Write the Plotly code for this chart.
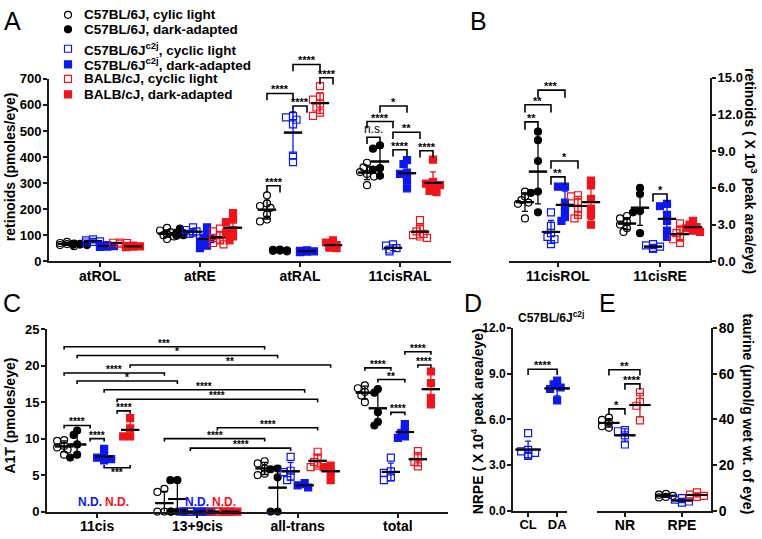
import numpy as np
import plotly.graph_objects as go

W, H = 762, 539
FONT = "Liberation Sans, Arial, sans-serif"
AX = "#1a1a1a"
BLUE = "#0c18f0"
RED = "#f0141a"

# ---------------- groups ----------------
group_names = [
    "C57BL/6J, cylic light",
    "C57BL/6J, dark-adapted",
    "C57BL/6J<sup>c2j</sup>, cyclic light",
    "C57BL/6J<sup>c2j</sup>, dark-adapted",
    "BALB/cJ, cyclic light",
    "BALB/cJ, dark-adapted",
]
group_symbols = ["circle-open", "circle", "square-open", "square", "square-open", "square"]
group_colors = ["black", "black", BLUE, BLUE, RED, RED]

# ---------------- panel A : retinoids (pmoles/eye) ----------------
a_categories = ["atROL", "atRE", "atRAL", "11cisRAL"]
a_wt_cl = [[62, 66, 70, 74, 58, 68], [128, 118, 105, 95, 85, 112, 100],
           [253, 222, 212, 205, 180, 160, 153], [378, 360, 350, 342, 335, 325, 292]]
a_wt_da = [[62, 64, 66, 63, 65, 67], [100, 104, 110, 125, 98, 108],
           [38, 42, 45, 40, 44, 41], [445, 432, 357, 352, 328]]
a_c2j_cl = [[72, 76, 80, 84, 74], [130, 120, 110, 100, 115, 105],
            [557, 552, 543, 525, 405, 380], [65, 60, 50, 45, 38]]
a_c2j_da = [[55, 58, 60, 56, 62], [130, 108, 90, 75, 60, 50, 85],
            [35, 38, 40, 37, 42], [388, 373, 340, 335, 310, 280]]
a_balb_cl = [[68, 70, 72, 71], [125, 115, 100, 90, 80, 70, 65],
             [672, 632, 620, 605, 590, 570, 558], [158, 130, 115, 105, 100, 95, 90]]
a_balb_da = [[54, 57, 60, 56, 58], [185, 160, 150, 120, 110, 95, 80],
             [80, 72, 62, 55, 52, 50], [390, 305, 298, 292, 285, 270, 265]]
# ((category, group), (category, group), level, label)
a_brackets = [
    ((2, 0), (2, 1), 290, "****"), ((2, 0), (2, 2), 644, "****"),
    ((2, 2), (2, 3), 596, "****"), ((2, 2), (2, 4), 755, "****"),
    ((2, 4), (2, 5), 704, "****"), ((3, 1), (3, 3), 596, "*"),
    ((3, 0), (3, 2), 536, "****"), ((3, 0), (3, 1), 476, "n.s."),
    ((3, 2), (3, 4), 495, "**"), ((3, 2), (3, 3), 428, "****"),
    ((3, 4), (3, 5), 424, "****"),
]

# ---------------- panel B : retinoids (x10^3 peak area/eye) ----------------
b_categories = ["11cisROL", "11cisRE"]
b_wt_cl = [[5.7, 5.3, 5.0, 4.8, 4.7, 3.5], [3.7, 3.5, 3.2, 3.0, 2.7, 2.4]]
b_wt_da = [[10.6, 9.9, 8.2, 5.7, 5.6, 4.0], [6.0, 5.5, 4.1, 4.0, 2.3]]
b_c2j_cl = [[4.0, 2.9, 2.3, 2.0, 1.8, 1.4], [1.4, 1.3, 1.2, 1.1, 1.0]]
b_c2j_da = [[6.1, 6.1, 4.8, 4.4, 4.0, 3.6, 3.3], [4.7, 4.5, 3.8, 3.3, 2.5, 2.0]]
b_balb_cl = [[5.4, 5.3, 4.8, 4.3, 3.8, 3.5], [3.1, 2.6, 2.3, 2.0, 1.8, 1.5]]
b_balb_da = [[6.6, 6.2, 5.1, 4.3, 3.8, 3.0], [3.3, 3.0, 2.8, 2.7, 2.5, 2.4]]
b_brackets = [
    ((0, 0), (0, 1), 11.4, "**"), ((0, 0), (0, 2), 12.8, "**"),
    ((0, 1), (0, 3), 14.0, "***"), ((0, 2), (0, 3), 6.9, "**"),
    ((0, 2), (0, 4), 8.2, "*"), ((1, 2), (1, 3), 5.5, "*"),
]

# ---------------- panel C : A1T (pmoles/eye) ----------------
c_categories = ["11cis", "13+9cis", "all-trans", "total"]
c_wt_cl = [[9.8, 9.7, 9.0, 8.8, 8.5, 7.8], [3.1, 2.7, 0, 0, 0],
           [6.9, 6.6, 5.9, 5.2, 5.0], [17.3, 16.9, 16.4, 15.9, 15.0]]
c_wt_da = [[11.1, 10.5, 9.2, 7.8, 7.4], [4.3, 4.3, 0, 0, 0],
           [5.9, 5.8, 4.7, 0, 0], [16.8, 16.3, 13.6, 12.3, 11.8]]
c_c2j_cl = [[], [0, 0, 0, 0, 0], [7.5, 5.6, 5.4, 4.8, 4.3], [7.4, 5.5, 5.3, 4.7, 4.3]]
c_c2j_da = [[8.6, 7.6, 7.4, 7.2, 7.0], [0, 0, 0, 0], [3.9, 3.6, 3.3],
            [12.0, 11.3, 10.8, 10.3, 10.1]]
c_balb_cl = [[], [0, 0, 0, 0], [8.2, 7.4, 6.8, 6.3, 6.1], [8.3, 7.4, 6.8, 6.2]]
c_balb_da = [[12.8, 11.4, 10.3, 10.3], [0, 0, 0, 0], [6.3, 6.1, 5.4, 4.3],
             [19.2, 17.6, 15.6, 14.7]]
c_brackets = [
    ((0, 0), (2, 0), 22.6, "***"), ((0, 1), (2, 1), 21.4, "*"),
    ((0, 0), (1, 0), 19.0, "****"), ((0, 5), (2, 5), 20.1, "**"),
    ((0, 1), (1, 1), 17.9, "*"), ((0, 3), (2, 3), 16.7, "****"),
    ((0, 4), (2, 4), 15.4, "****"), ((0, 0), (0, 2), 11.8, "****"),
    ((0, 2), (0, 3), 10.0, "****"), ((0, 4), (0, 5), 13.8, "****"),
    ((1, 0), (2, 0), 10.0, "****"), ((1, 2), (2, 2), 8.7, "****"),
    ((1, 4), (2, 4), 11.5, "****"), ((3, 0), (3, 2), 19.7, "****"),
    ((3, 1), (3, 3), 18.1, "**"), ((3, 2), (3, 3), 13.6, "****"),
    ((3, 3), (3, 5), 21.9, "****"), ((3, 4), (3, 5), 20.1, "****"),
]
c_inverted = [((0, 3), (0, 5), 6.0, "***")]
# N.D. labels: (category, group from, group to)
c_nd = [(0, 2, 2), (0, 4, 4), (1, 2, 3), (1, 4, 5)]

# ---------------- panel D : NRPE ----------------
d_categories = ["CL", "DA"]
d_c2j = [[5.1, 4.0, 3.9, 3.8, 3.7, 3.6], [8.55, 8.3, 8.1, 8.0, 7.25]]
d_brackets = [((0, 0), (1, 0), 9.3, "****")]

# ---------------- panel E : taurine ----------------
e_categories = ["NR", "RPE"]
e_wt_cl = [[40.8, 39.8, 38.5, 37.0, 36.3], [7.3, 7.0, 6.5, 6.0, 5.8]]
e_c2j_cl = [[35.3, 34.8, 33.0, 29.0], [5.5, 4.8, 4.0, 3.5]]
e_balb_cl = [[51.9, 47.7, 46.0, 39.6], [8.0, 7.0, 6.5, 6.0]]
e_brackets = [((0, 0), (0, 2), 61.8, "**"), ((0, 1), (0, 2), 55.6, "****"),
              ((0, 0), (0, 1), 44.6, "*")]


def fx(px):
    return px / W


def fy(py):
    return 1 - py / H


def swarm(vals, ppy, step=3.5, min_d=5.0):
    """Spread overlapping points sideways (pixel offsets)."""
    vals = np.asarray(vals, float)
    placed, out = [], np.zeros(len(vals))
    for i in np.argsort(-vals, kind="stable"):
        yp = vals[i] * ppy
        best, best_hits = 0.0, None
        for k in (0, -1, 1, -2, 2):
            xp = k * step
            hits = sum(1 for a, b in placed if np.hypot(xp - a, yp - b) < min_d)
            if best_hits is None or hits < best_hits:
                best, best_hits = xp, hits
            if hits == 0:
                break
        placed.append((best, yp))
        out[i] = best
    return out


fig = go.Figure()
layout = {}
annotations = []


def bold(size):
    return dict(family=FONT, size=size, color="black", weight="bold")


def make_panel(n, ext, xpx, ypx, xr, yr, ext_py, side, cats, dtick, fmt, tsize, csize):
    xid, yid = ("x", "y") if n == 1 else (f"x{n}", f"y{n}")
    xkey, ykey = ("xaxis", "yaxis") if n == 1 else (f"xaxis{n}", f"yaxis{n}")
    common = dict(showline=True, linecolor=AX, linewidth=2, ticks="outside", ticklen=4,
                  tickwidth=1.5, tickcolor=AX, showgrid=False, zeroline=False,
                  fixedrange=True)
    layout[xkey] = dict(domain=[fx(xpx[0]), fx(xpx[1])], range=xr, anchor=yid,
                        tickvals=list(range(len(cats))), ticktext=cats,
                        tickfont=bold(csize), ticklabelstandoff=-3, **common)
    layout[ykey] = dict(domain=[fy(ypx[1]), fy(ypx[0])], range=yr, anchor=xid, side=side,
                        tick0=0, dtick=dtick, tickformat=fmt, tickfont=bold(tsize),
                        ticklabelstandoff=-1, **common)
    top = yr[1] * (ypx[1] - ext_py) / (ypx[1] - ypx[0])
    layout[f"yaxis{ext}"] = dict(domain=[fy(ypx[1]), fy(ext_py)], range=[0, top],
                                 anchor=xid, visible=False, fixedrange=True)
    return dict(x=xid, y=yid, ext=f"y{ext}",
                ppx=(xpx[1] - xpx[0]) / (xr[1] - xr[0]),
                ppy=(ypx[1] - ypx[0]) / (yr[1] - yr[0]))


def add_groups(p, series, groups, offs_px, mean_w, msize=7):
    pos = {}
    for data, g, off in zip(series, groups, offs_px):
        xs, ys, mx, my, sd = [], [], [], [], []
        for c, vals in enumerate(data):
            base = c + off / p["ppx"]
            pos[(c, g)] = base
            if not vals:
                continue
            jit = swarm(vals, p["ppy"])
            xs += list(base + jit / p["ppx"])
            ys += list(vals)
            mx.append(base)
            my.append(float(np.mean(vals)))
            sd.append(float(np.std(vals, ddof=1)) if len(vals) > 1 else 0.0)
        col = group_colors[g]
        fig.add_trace(go.Scatter(
            x=mx, y=my, xaxis=p["x"], yaxis=p["y"], mode="markers",
            marker=dict(symbol="line-ew", size=mean_w, color="black",
                        line=dict(width=2, color="black")),
            error_y=dict(type="data", array=sd, color=col, thickness=1.3, width=3),
            cliponaxis=False, showlegend=False, hoverinfo="skip"))
        fig.add_trace(go.Scatter(
            x=xs, y=ys, xaxis=p["x"], yaxis=p["y"], mode="markers",
            marker=dict(symbol=group_symbols[g], size=msize, color=col,
                        line=dict(width=1.2, color=col)),
            cliponaxis=False, showlegend=False, hoverinfo="skip"))
        # mean line drawn on top of the points
        fig.add_trace(go.Scatter(
            x=mx, y=my, xaxis=p["x"], yaxis=p["y"], mode="markers",
            marker=dict(symbol="line-ew", size=mean_w, color="black",
                        line=dict(width=2, color="black")),
            cliponaxis=False, showlegend=False, hoverinfo="skip"))
    return pos


def add_brackets(p, pos, brackets, leg_px, inverted=False, size=11):
    bx, by = [], []
    leg = leg_px / p["ppy"] * (-1 if inverted else 1)
    for a, b, lvl, label in brackets:
        x1, x2 = pos[a], pos[b]
        bx += [x1, x1, x2, x2, None]
        by += [lvl - leg, lvl, lvl, lvl - leg, None]
        ns = label == "n.s."
        annotations.append(dict(
            x=(x1 + x2) / 2, y=lvl, xref=p["x"], yref=p["ext"], text=label,
            showarrow=False, xanchor="center",
            yanchor="top" if inverted else "bottom",
            yshift=(3 if inverted else (-1 if ns else -4)),
            font=dict(family=FONT, size=12 if ns else size, color="black",
                      weight="normal" if ns else "bold")))
    fig.add_trace(go.Scatter(x=bx, y=by, xaxis=p["x"], yaxis=p["ext"], mode="lines",
                             line=dict(color="black", width=1.6),
                             showlegend=False, hoverinfo="skip"))


OFF6 = [-33, -20, -7, 7, 20, 33]

# panel A
pa = make_panel(1, 6, (49, 451), (73, 261), [-0.51, 3.51], [0, 700], 20, "left",
                a_categories, 100, "d", 13, 14)
pos_a = add_groups(pa, [a_wt_cl, a_wt_da, a_c2j_cl, a_c2j_da, a_balb_cl, a_balb_da],
                   range(6), OFF6, 13)
add_brackets(pa, pos_a, a_brackets, 7)

# panel B
pb = make_panel(2, 7, (509, 710), (72, 261), [-0.48, 1.49], [0, 15], 60, "right",
                b_categories, 3, ".1f", 13, 14)
pos_b = add_groups(pb, [b_wt_cl, b_wt_da, b_c2j_cl, b_c2j_da, b_balb_cl, b_balb_da],
                   range(6), OFF6, 13)
add_brackets(pb, pos_b, b_brackets, 8)

# panel C
pc = make_panel(3, 8, (47, 448), (331, 519), [-0.5, 3.5], [0, 25], 325, "left",
                c_categories, 5, "d", 13, 14)
pos_c = add_groups(pc, [c_wt_cl, c_wt_da, c_c2j_cl, c_c2j_da, c_balb_cl, c_balb_da],
                   range(6), OFF6, 13)
add_brackets(pc, pos_c, c_brackets, 3, size=10)
add_brackets(pc, pos_c, c_inverted, 3, inverted=True, size=10)
for cat, g1, g2 in c_nd:
    annotations.append(dict(
        x=(pos_c[(cat, g1)] + pos_c[(cat, g2)]) / 2, y=0, xref=pc["x"], yref=pc["ext"],
        text="N.D.", showarrow=False, xanchor="center", yanchor="bottom", yshift=1,
        font=dict(family=FONT, size=12, color=group_colors[g1], weight="bold")))

# panel D
pd_ = make_panel(4, 9, (513, 567), (330, 518), [-0.52, 1.34], [0, 12], 320, "left",
                 d_categories, 3, ".1f", 12, 13)
d_series = [[d_c2j[0], []], [[], d_c2j[1]]]
pos_d = add_groups(pd_, d_series, [2, 3], [0, 0], 18)
add_brackets(pd_, {(0, 0): pos_d[(0, 2)], (1, 0): pos_d[(1, 3)]}, d_brackets, 6)

# panel E
pe = make_panel(5, 10, (597, 711), (330, 518), [-0.49, 1.51], [0, 80], 320, "right",
                e_categories, 20, "d", 14, 14)
pos_e = add_groups(pe, [e_wt_cl, e_c2j_cl, e_balb_cl], [0, 2, 4], [-16, 0, 15], 15)
add_brackets(pe, {(c, i): pos_e[(c, g)] for c in range(2) for i, g in enumerate([0, 2, 4])},
             e_brackets, 6)

# legend markers on a pixel-space overlay axis
layout["xaxis11"] = dict(domain=[0, 1], range=[0, W], anchor="y11", visible=False,
                         fixedrange=True)
layout["yaxis11"] = dict(domain=[0, 1], range=[H, 0], anchor="x11", visible=False,
                         fixedrange=True)
legend_rows = [7, 22, 42, 58, 73, 89]
for g, row in enumerate(legend_rows):
    fig.add_trace(go.Scatter(
        x=[68], y=[row], xaxis="x11", yaxis="y11", mode="markers",
        marker=dict(symbol=group_symbols[g], size=7, color=group_colors[g],
                    line=dict(width=1.2, color=group_colors[g])),
        showlegend=False, hoverinfo="skip"))
    annotations.append(dict(x=fx(82), y=fy(row), xref="paper", yref="paper",
                            text=group_names[g], showarrow=False, xanchor="left",
                            yanchor="middle", font=bold(13.5)))

# panel letters
for letter, px, py in [("A", 12, 13), ("B", 478, 13), ("C", 12, 304), ("D", 473, 304),
                       ("E", 607, 304)]:
    annotations.append(dict(x=fx(px), y=fy(py), xref="paper", yref="paper", text=letter,
                            showarrow=False, xanchor="center", yanchor="middle",
                            font=dict(family=FONT, size=25, color="black")))

# axis titles
titles = [
    ("retinoids (pmoles/eye)", 10, 164, -90),
    ("retinoids ( X 10<sup>3</sup> peak area/eye)", 751, 168, 90),
    ("A1T (pmoles/eye)", 10, 420, -90),
    ("NRPE ( X 10<sup>4</sup> peak area/eye)", 477, 426, -90),
    ("taurine (\u03bcmol/g wet wt. of eye)", 748, 418, 90),
]
for text, px, py, ang in titles:
    annotations.append(dict(x=fx(px), y=fy(py), xref="paper", yref="paper", text=text,
                            textangle=ang, showarrow=False, xanchor="center",
                            yanchor="middle", font=bold(14)))
annotations.append(dict(x=fx(551), y=fy(318), xref="paper", yref="paper",
                        text="C57BL/6J<sup>c2j</sup>", showarrow=False, xanchor="center",
                        yanchor="middle", font=bold(12)))

fig.update_layout(
    width=W, height=H, autosize=False,
    margin=dict(l=0, r=0, t=0, b=0),
    paper_bgcolor="white", plot_bgcolor="rgba(0,0,0,0)",
    showlegend=False, font=dict(family=FONT, color="black"),
    annotations=annotations,
    **layout,
)

fig.write_html("out.html", config={"displayModeBar": False},
               post_script="document.body.style.margin = '0';")
